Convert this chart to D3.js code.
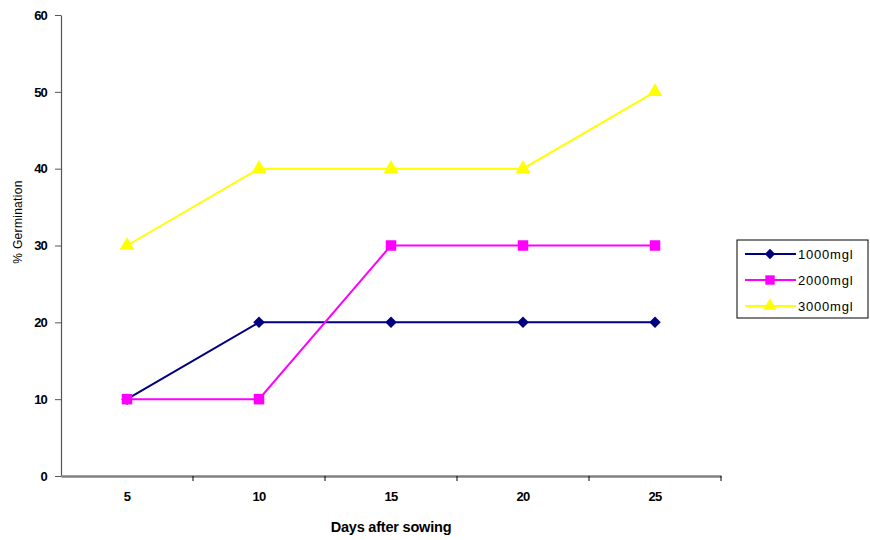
<!DOCTYPE html>
<html>
<head>
<meta charset="utf-8">
<script src="https://cdn.jsdelivr.net/npm/d3@7"></script>
<style>
  html, body { margin: 0; padding: 0; background: #fff; }
  svg { display: block; }
  text { font-family: "Liberation Sans", Arial, sans-serif; }
</style>
</head>
<body>
<svg id="chart" width="870" height="540"></svg>
<script>
// Germination percentage by days after sowing, for three concentrations
const days = ["5", "10", "15", "20", "25"];
const conc1000 = [10, 20, 20, 20, 20];
const conc2000 = [10, 10, 30, 30, 30];
const conc3000 = [30, 40, 40, 40, 50];
const yTicks = [0, 10, 20, 30, 40, 50, 60];

// a square turned 45 degrees
const symbolRhomb = {
  draw(context, size) {
    const r = Math.sqrt(size / 2);
    context.moveTo(0, -r);
    context.lineTo(r, 0);
    context.lineTo(0, r);
    context.lineTo(-r, 0);
    context.closePath();
  }
};

const series = [
  { name: "1000mgl", values: conc1000, color: "#000080", symbol: symbolRhomb, size: 66 },
  { name: "2000mgl", values: conc2000, color: "#FF00FF", symbol: d3.symbolSquare, size: 110 },
  { name: "3000mgl", values: conc3000, color: "#FFFF00", symbol: d3.symbolTriangle, size: 95 }
];

const svg = d3.select("#chart");
const plot = { left: 61, right: 721, top: 15, bottom: 476 };

const x = d3.scaleBand().domain(days).range([plot.left, plot.right]);
const y = d3.scaleLinear().domain([0, 60]).range([plot.bottom, plot.top]);

// y axis
const yAxis = svg.append("g")
  .attr("transform", `translate(${plot.left},0)`)
  .call(d3.axisLeft(y).tickValues(yTicks).tickSize(6).tickPadding(8).tickSizeOuter(0));
yAxis.select(".domain").attr("stroke", "#555").attr("stroke-width", 1.2);
yAxis.selectAll(".tick line").attr("stroke", "#555");
yAxis.selectAll(".tick text")
  .attr("font-size", 13).attr("font-weight", "bold").attr("fill", "#000")
  .attr("letter-spacing", -0.8);

// x axis: ticks sit between categories
const xAxis = svg.append("g")
  .attr("transform", `translate(0,${plot.bottom})`)
  .call(d3.axisBottom(x).tickSize(0).tickPadding(16));
xAxis.select(".domain").attr("stroke", "#808080").attr("stroke-width", 2.5);
xAxis.selectAll(".tick text")
  .attr("font-size", 13).attr("font-weight", "bold").attr("fill", "#000")
  .attr("letter-spacing", -0.8);
const bounds = days.map(d => x(d)).concat([x(days[days.length - 1]) + x.bandwidth()]);
xAxis.selectAll(".sep")
  .data(bounds.slice(1))
  .join("line")
  .attr("class", "sep")
  .attr("x1", d => d).attr("x2", d => d)
  .attr("y1", 0).attr("y2", 5)
  .attr("stroke", "#000").attr("stroke-width", 1);

// axis titles
svg.append("text")
  .attr("x", (plot.left + plot.right) / 2).attr("y", 532)
  .attr("text-anchor", "middle")
  .attr("font-size", 14.5).attr("font-weight", "bold")
  .attr("letter-spacing", -0.2)
  .text("Days after sowing");
svg.append("text")
  .attr("transform", "translate(22,222) rotate(-90)")
  .attr("text-anchor", "middle")
  .attr("font-size", 12)
  .attr("letter-spacing", 0.3)
  .text("% Germination");

const cx = d => x(d) + x.bandwidth() / 2;
const line = d3.line().x((v, i) => cx(days[i])).y(v => y(v));

// each series is drawn over the previous one
series.forEach(s => {
  const g = svg.append("g");
  g.append("path")
    .attr("d", line(s.values))
    .attr("fill", "none")
    .attr("stroke", s.color)
    .attr("stroke-width", 2);
  g.selectAll("path.pt")
    .data(s.values)
    .join("path")
    .attr("class", "pt")
    .attr("transform", (v, i) => `translate(${cx(days[i])},${y(v)})`)
    .attr("d", d3.symbol().type(s.symbol).size(s.size))
    .attr("fill", s.color);
});

// legend
const lg = svg.append("g").attr("transform", "translate(737,240)");
lg.append("rect")
  .attr("width", 131).attr("height", 78)
  .attr("fill", "#fff").attr("stroke", "#000").attr("stroke-width", 1);
series.forEach((s, i) => {
  const ry = 14 + i * 26;
  lg.append("line")
    .attr("x1", 8).attr("x2", 59).attr("y1", ry).attr("y2", ry)
    .attr("stroke", s.color).attr("stroke-width", 2);
  lg.append("path")
    .attr("transform", `translate(33,${ry})`)
    .attr("d", d3.symbol().type(s.symbol).size(s.size * 0.8))
    .attr("fill", s.color);
  lg.append("text")
    .attr("x", 61).attr("y", ry + 4.5)
    .attr("font-size", 13)
    .attr("letter-spacing", 0.8)
    .text(s.name);
});
</script>
</body>
</html>
